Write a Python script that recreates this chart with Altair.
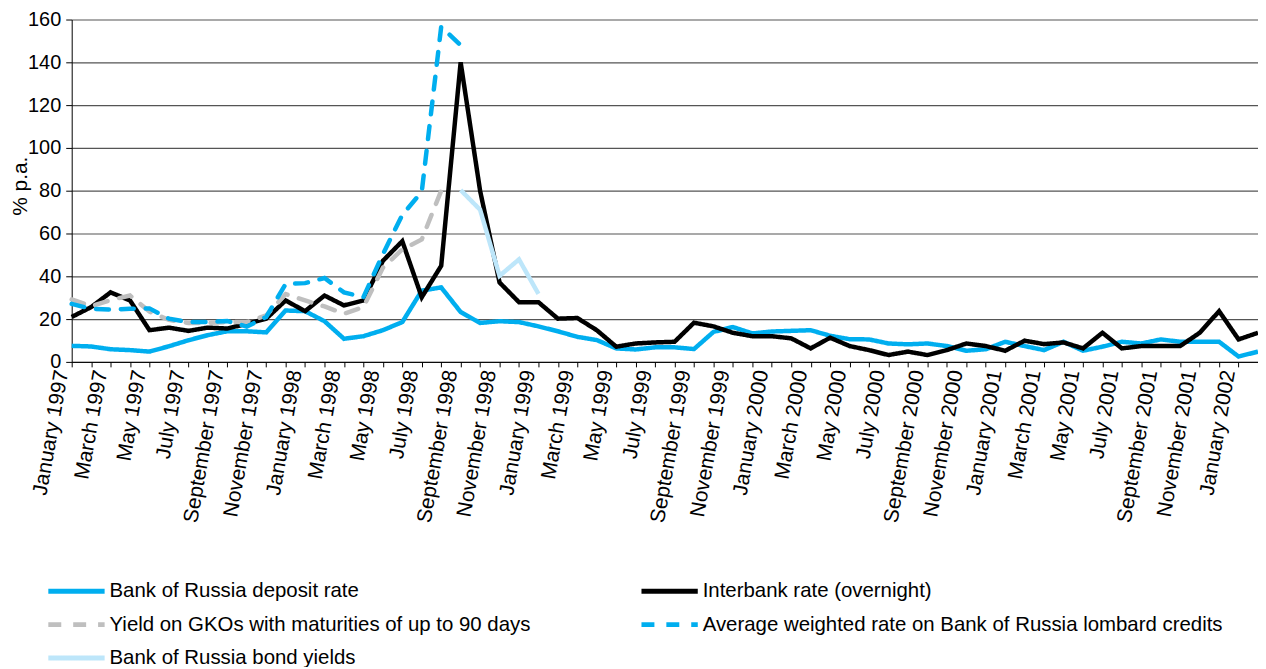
import altair as alt
import pandas as pd

month_names = ["January", "February", "March", "April", "May", "June", "July",
               "August", "September", "October", "November", "December"]
months = [f"{m} {y}" for y in range(1997, 2003) for m in month_names][:62]

deposit = [7.5, 7.2, 5.9, 5.5, 4.8, 7.3, 10.1, 12.5, 14.3, 14.3,
           13.8, 24.0, 23.7, 19.0, 10.8, 12.0, 14.8, 18.6, 33.3, 34.8,
           23.3, 18.2, 19.0, 18.6, 16.6, 14.3, 11.7, 10.2, 6.3, 5.8,
           6.8, 6.8, 6.0, 14.0, 16.3, 13.3, 14.2, 14.5, 14.8, 12.2,
           10.6, 10.5, 8.6, 8.2, 8.6, 7.4, 5.2, 5.9, 9.4, 7.4,
           5.5, 9.4, 5.2, 7.1, 9.4, 8.6, 10.5, 9.4, 9.4, 9.4,
           2.5, 4.8]
interbank = [21.0, 25.6, 32.5, 28.7, 14.8, 16.0, 14.5, 16.0, 15.6, 17.8,
             20.2, 28.7, 23.7, 31.0, 26.4, 28.7, 47.2, 56.4, 30.2, 44.9,
             140.0, 80.0, 37.1, 27.9, 27.9, 20.2, 20.5, 14.8, 7.1, 8.6,
             9.1, 9.4, 18.3, 16.6, 13.6, 12.0, 12.0, 11.0, 6.3, 11.3,
             7.4, 5.5, 3.2, 4.8, 3.2, 5.5, 8.6, 7.4, 5.2, 9.9,
             8.3, 9.1, 6.3, 13.6, 6.3, 7.4, 7.4, 7.4, 13.6, 23.7,
             10.5, 13.6]
# January 1997 - August 1998
gko = [29.2, 26.0, 28.9, 31.0, 23.5, 19.6, 18.2, 18.2, 18.6, 18.6,
       21.7, 31.7, 28.7, 25.9, 22.5, 25.6, 44.0, 52.6, 57.2, 80.0]
# January 1997 - September 1998
lombard = [27.1, 24.8, 24.4, 24.8, 25.0, 20.2, 18.6, 18.6, 19.1, 16.5,
           21.0, 36.4, 36.8, 39.2, 32.5, 30.2, 50.3, 68.7, 79.5, 156.6,
           148.0]
# September 1998 - January 1999
bond = [80.3, 71.1, 40.2, 47.9, 31.8]
bond_start = 20

DEP = "Bank of Russia deposit rate"
IB = "Interbank rate (overnight)"
GKO = "Yield on GKOs with maturities of up to 90 days"
LOM = "Average weighted rate on Bank of Russia lombard credits"
BOND = "Bank of Russia bond yields"

# legend fills column by column: left column first
legend_order = [DEP, GKO, BOND, IB, LOM]
style = {
    DEP: ("#00AEEF", [1, 0]),
    IB: ("#000000", [1, 0]),
    GKO: ("#BFBFBF", [13, 12]),
    LOM: ("#00AEEF", [13, 12]),
    BOND: ("#BDE6FA", [1, 0]),
}
draw_order = [DEP, IB, GKO, LOM, BOND]

rows = []
for name, vals, start in [
    (DEP, deposit, 0),
    (IB, interbank, 0),
    (GKO, gko, 0),
    (LOM, lombard, 0),
    (BOND, bond, bond_start),
]:
    for k, v in enumerate(vals):
        rows.append({"month": months[start + k], "value": v, "series": name})
df = pd.DataFrame(rows)

label_expr = ("(indexof(datum.label,'January')==0||indexof(datum.label,'March')==0||"
              "indexof(datum.label,'May')==0||indexof(datum.label,'July')==0||"
              "indexof(datum.label,'September')==0||indexof(datum.label,'November')==0)"
              " ? datum.label : ''")

x_enc = alt.X(
    "month:N",
    scale=alt.Scale(type="point", padding=0, domain=months),
    axis=alt.Axis(
        title=None, labelAngle=-80, labelAlign="right", labelBaseline="bottom",
        labelFontSize=21, labelColor="black", labelPadding=5, labelLimit=400,
        tickSize=5, tickColor="black", domainColor="black", labelOverlap=False,
        labelExpr=label_expr, grid=False,
    ),
)
y_enc = alt.Y(
    "value:Q",
    scale=alt.Scale(domain=[0, 160], nice=False, zero=True),
    axis=alt.Axis(
        title="% p.a.", values=list(range(0, 161, 20)), grid=True,
        gridColor="#555555", gridWidth=1.2, tickSize=6, tickColor="black",
        domainColor="black", labelFontSize=20, labelColor="black", labelPadding=5,
        titleFontSize=21, titleFontWeight="normal", titleColor="black",
        titleAngle=-90, titleX=-51, titleY=167, titleBaseline="middle",
        titleAlign="center",
    ),
)
legend = alt.Legend(
    title=None, orient="none", legendX=-15.7, legendY=554, columns=2,
    symbolType="M-1.6,0L1.6,0", symbolSize=1250, symbolStrokeWidth=5,
    labelFontSize=20.5, labelColor="black", labelOffset=12.7, labelLimit=800,
    columnPadding=101, rowPadding=2.5, padding=0,
)
color_enc = alt.Color(
    "series:N",
    scale=alt.Scale(domain=legend_order, range=[style[s][0] for s in legend_order]),
    legend=legend,
)
dash_enc = alt.StrokeDash(
    "series:N",
    scale=alt.Scale(domain=legend_order, range=[style[s][1] for s in legend_order]),
    legend=legend,
)

base = alt.Chart(df)
layers = []
for name in draw_order:
    dashed = style[name][1][0] != 1
    mark = base.transform_filter(alt.datum.series == name).mark_line(
        strokeWidth=4.5, strokeCap="round" if dashed else "butt"
    )
    layers.append(mark.encode(x=x_enc, y=y_enc, color=color_enc, strokeDash=dash_enc))

chart = alt.layer(*layers).properties(
    width=1192, height=344,
    autosize=alt.AutoSizeParams(type="none"),
    padding={"left": 64, "top": 10, "right": 0, "bottom": 305},
).configure(font="Liberation Sans").configure_view(strokeWidth=0)

chart.save("out.html", embed_options={"renderer": "svg", "actions": False})
